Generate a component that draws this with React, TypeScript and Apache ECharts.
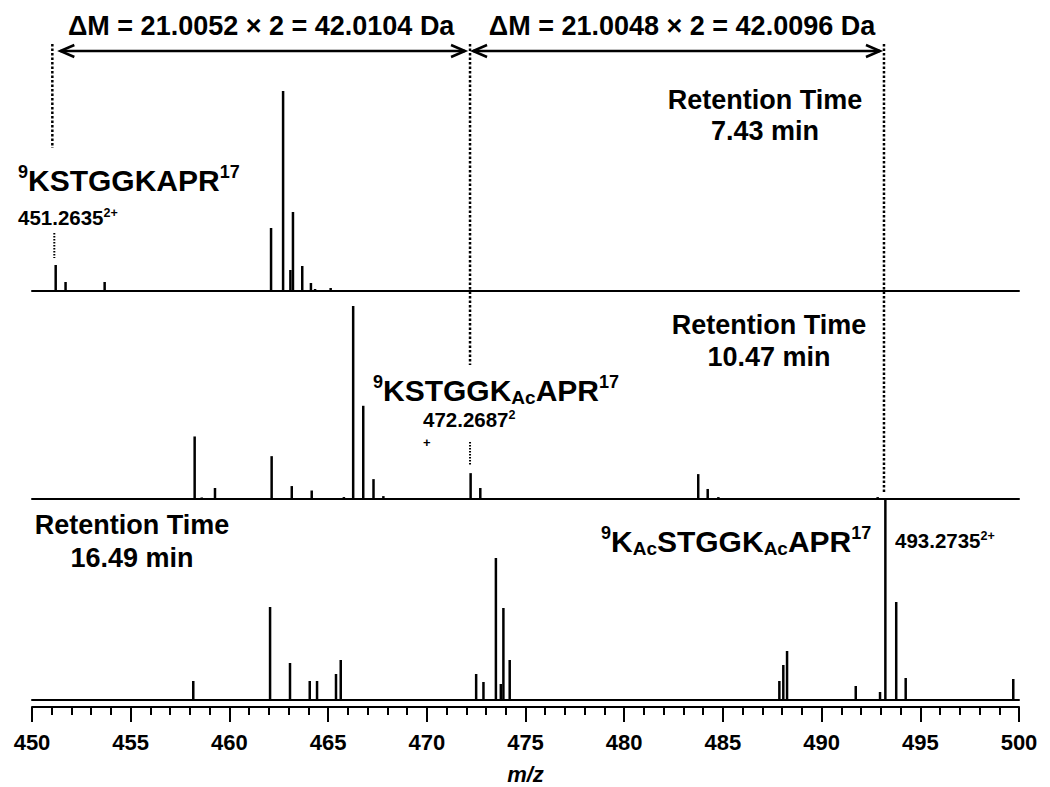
import React, { useEffect, useRef } from "react";
import * as echarts from "echarts";

const FONT = "'Liberation Sans', Arial, Helvetica, sans-serif";

// m/z axis
const mzMin = 450;
const mzMax = 500;
const mzStep = 5;

// Panel 1 (RT 7.43 min): 9KSTGGKAPR17
const panel1Mz = [451.2, 451.7, 453.68, 462.11, 462.72, 463.09, 463.22, 463.69, 464.13, 464.34, 465.13];
const panel1Int = [13, 4.5, 4.5, 31.5, 100, 10.5, 39.5, 12.5, 4, 1, 1.5];

// Panel 2 (RT 10.47 min): 9KSTGGK(Ac)APR17
const panel2Mz = [458.24, 458.6, 459.27, 462.14, 463.16, 464.17, 465.8, 466.27, 466.78, 467.3, 467.8, 472.22, 472.71, 483.75, 484.23, 484.77, 492.84];
const panel2Int = [32.4, 0.8, 5.7, 22.2, 6.7, 4.4, 1, 100, 48.3, 10.3, 1.5, 13.4, 5.7, 12.9, 5.2, 1, 1];

// Panel 3 (RT 16.49 min): 9K(Ac)STGGK(Ac)APR17
const panel3Mz = [458.17, 462.06, 463.07, 464.07, 464.44, 465.4, 465.64, 472.5, 472.87, 473.5, 473.75, 473.88, 474.2, 487.86, 488.06, 488.25, 491.73, 492.96, 493.23, 493.78, 494.26, 499.71];
const panel3Int = [9.5, 46.5, 18.5, 9.5, 9.5, 13, 20, 13, 9, 71, 8, 46, 20, 9.5, 17.5, 24.5, 7, 4, 100, 49, 11, 10.5];

// annotation m/z positions (dotted guide lines)
const guide1Mz = 451.03;
const guide1SmallMz = 451.13;
const guide2Mz = 472.19;
const guide3Mz = 493.16;

const deltaLabels = ["\u0394M = 21.0052 \u00d7 2 = 42.0104 Da", "\u0394M = 21.0048 \u00d7 2 = 42.0096 Da"];
const rtLabels = ["Retention Time\n7.43 min", "Retention Time\n10.47 min", "Retention Time\n16.49 min"];

const zip = (a: number[], b: number[]) => a.map((v, i) => [v, b[i]]);

export default function App() {
  const ref = useRef<HTMLDivElement>(null);

  useEffect(() => {
    const chart = echarts.init(ref.current!, null, { renderer: "svg" });

    const grids = [
      { left: 32, right: 31, top: 91, height: 200 },
      { left: 32, right: 31, top: 306, height: 193 },
      { left: 32, right: 31, top: 500, height: 200 },
    ];

    const baseX = (gridIndex: number) => ({
      type: "value",
      gridIndex,
      min: mzMin,
      max: mzMax,
      position: "bottom",
      axisLine: { show: true, onZero: false, lineStyle: { color: "#000", width: 2 } },
      axisTick: { show: false },
      axisLabel: { show: false },
      splitLine: { show: false },
    });

    const barSeries = (i: number, mz: number[], it: number[]) => ({
      type: "bar",
      xAxisIndex: i,
      yAxisIndex: i,
      data: zip(mz, it),
      barWidth: 2.5,
      itemStyle: { color: "#000" },
      silent: true,
    });

    chart.setOption({
      animation: false,
      backgroundColor: "#fff",
      grid: grids,
      xAxis: [
        baseX(0),
        baseX(1),
        baseX(2),
        {
          type: "value",
          gridIndex: 2,
          min: mzMin,
          max: mzMax,
          interval: mzStep,
          position: "bottom",
          offset: 7,
          axisLine: { show: true, onZero: false, lineStyle: { color: "#000", width: 2 } },
          axisTick: { show: true, inside: false, length: 15, lineStyle: { color: "#000", width: 2 } },
          minorTick: { show: true, splitNumber: 5, length: 8, lineStyle: { color: "#000", width: 2 } },
          axisLabel: { fontSize: 22, fontWeight: "bold", color: "#000", fontFamily: FONT, margin: 24 },
          splitLine: { show: false },
          name: "m/z",
          nameLocation: "middle",
          nameGap: 56,
          nameTextStyle: { fontSize: 22, fontWeight: "bold", fontStyle: "italic", color: "#000", fontFamily: FONT },
        },
      ],
      yAxis: [0, 1, 2].map((i) => ({ type: "value", gridIndex: i, min: 0, max: 100, show: false })),
      series: [
        barSeries(0, panel1Mz, panel1Int),
        barSeries(1, panel2Mz, panel2Int),
        barSeries(2, panel3Mz, panel3Int),
      ],
    });

    const X = (m: number) => chart.convertToPixel({ xAxisIndex: 0 }, m) as number;

    const dotted = (m: number, y1: number, y2: number, w = 2.5, dash = [2.5, 2]) => ({
      type: "line",
      silent: true,
      shape: { x1: X(m), y1, x2: X(m), y2 },
      style: { stroke: "#000", lineWidth: w, lineDash: dash },
    });

    const arrow = (xa: number, xb: number, y: number) => [
      { type: "line", silent: true, shape: { x1: xa, y1: y, x2: xb, y2: y }, style: { stroke: "#000", lineWidth: 2.5 } },
      { type: "polyline", silent: true, shape: { points: [[xa + 14, y - 6], [xa, y], [xa + 14, y + 6]] }, style: { stroke: "#000", lineWidth: 2.5, fill: null } },
      { type: "polyline", silent: true, shape: { points: [[xb - 14, y - 6], [xb, y], [xb - 14, y + 6]] }, style: { stroke: "#000", lineWidth: 2.5, fill: null } },
    ];

    const plain = (text: string, x: number, y: number, size: number, lh: number) => ({
      type: "text",
      silent: true,
      style: {
        text, x, y,
        textAlign: "center", textVerticalAlign: "middle",
        fill: "#000",
        font: `bold ${size}px ${FONT}`,
        lineHeight: lh,
      },
    });

    const rich = {
      big: { fontSize: 30, fontWeight: "bold", fontFamily: FONT, lineHeight: 34, fill: "#000", textFill: "#000" },
      sup: { fontSize: 18, fontWeight: "bold", fontFamily: FONT, lineHeight: 19, verticalAlign: "top", textVerticalAlign: "top", fill: "#000", textFill: "#000" },
      sub: { fontSize: 19, fontWeight: "bold", fontFamily: FONT, lineHeight: 18, verticalAlign: "bottom", textVerticalAlign: "bottom", fill: "#000", textFill: "#000" },
      num: { fontSize: 20.5, fontWeight: "bold", fontFamily: FONT, lineHeight: 22, fill: "#000", textFill: "#000" },
      nsup: { fontSize: 12.5, fontWeight: "bold", fontFamily: FONT, lineHeight: 13, verticalAlign: "top", textVerticalAlign: "top", fill: "#000", textFill: "#000" },
      plus: { fontSize: 13, fontWeight: "bold", fontFamily: FONT, lineHeight: 24, fill: "#000", textFill: "#000" },
    };

    const richText = (text: string, x: number, y: number) => ({
      type: "text",
      silent: true,
      style: { text, x, y, textAlign: "left", textVerticalAlign: "top", fill: "#000", rich },
    });

    const yArrow = 51;
    const g1 = X(guide1Mz), g2 = X(guide2Mz), g3 = X(guide3Mz);

    chart.setOption({
      graphic: [
        dotted(guide1Mz, 44, 148),
        dotted(guide1SmallMz, 233, 258, 2, [1.5, 1.5]),
        dotted(guide2Mz, 44, 365),
        dotted(guide2Mz, 442, 466, 2, [1.5, 1.5]),
        dotted(guide3Mz, 44, 494),
        ...arrow(g1 + 8, g2 - 5, yArrow),
        ...arrow(g2 + 3, g3 - 4, yArrow),
        plain(deltaLabels[0], (g1 + g2) / 2, 26, 27, 30),
        plain(deltaLabels[1], (g2 + g3) / 2 + 5, 26, 27, 30),
        plain(rtLabels[0], 765, 115, 27, 31),
        plain(rtLabels[1], 769, 341, 27, 32),
        plain(rtLabels[2], 132, 541, 27, 33),
        richText("{sup|9}{big|KSTGGKAPR}{sup|17}", 18, 163),
        richText("{num|451.2635}{nsup|2+}", 18, 206),
        richText("{sup|9}{big|KSTGGK}{sub|Ac}{big|APR}{sup|17}", 373, 373),
        richText("{num|472.2687}{nsup|2}\n{plus|+}", 423, 408),
        richText("{sup|9}{big|K}{sub|Ac}{big|STGGK}{sub|Ac}{big|APR}{sup|17}", 601, 524),
        richText("{num|493.2735}{nsup|2+}", 895, 529),
      ],
    });

    return () => chart.dispose();
  }, []);

  return (
    <div
      ref={ref}
      style={{ position: "fixed", left: 0, top: 0, width: 1050, height: 787, background: "#fff" }}
    />
  );
}
